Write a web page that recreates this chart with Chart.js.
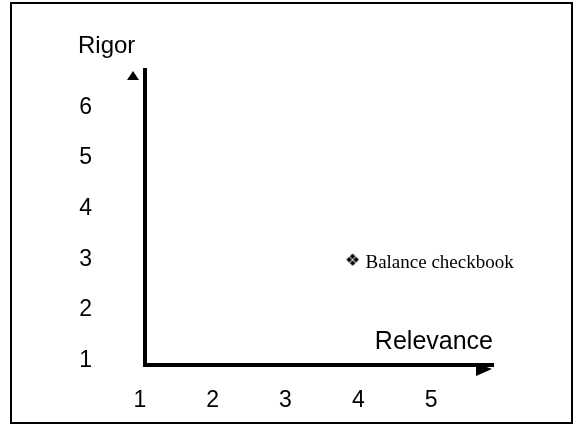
<!DOCTYPE html>
<html><head><meta charset="utf-8">
<script src="https://cdn.jsdelivr.net/npm/chart.js@4"></script>
<style>html,body{margin:0;padding:0;background:#fff}#wrap{width:579px;height:424px;position:relative}</style>
</head><body><div id="wrap"><canvas id="c" width="579" height="424"></canvas></div>
<script>
const xTicks = [1, 2, 3, 4, 5];
const yTicks = [1, 2, 3, 4, 5, 6];
const pointLabels = ['Balance checkbook'];
const relevanceValues = [3.92];
const rigorValues = [2.95];
const xTitle = 'Relevance';
const yTitle = 'Rigor';

const marker = document.createElement('canvas');
marker.width = 18; marker.height = 18;
(function(){
  const m = marker.getContext('2d');
  m.fillStyle = '#000';
  m.font = '17px "DejaVu Sans"';
  m.textAlign = 'center';
  m.textBaseline = 'middle';
  m.fillText('\u2756', 9, 9);
})();

const deco = {
  id: 'deco',
  afterDraw(chart) {
    const ctx = chart.ctx, a = chart.chartArea;
    ctx.save();
    // frame
    ctx.strokeStyle = '#000'; ctx.lineWidth = 2;
    ctx.strokeRect(11, 3, 561, 420);
    // arrows
    ctx.fillStyle = '#000';
    ctx.beginPath();
    ctx.moveTo(a.left - 12, a.top + 1);
    ctx.lineTo(a.left - 18, a.top + 10);
    ctx.lineTo(a.left - 6, a.top + 10);
    ctx.closePath(); ctx.fill();
    ctx.beginPath();
    ctx.moveTo(a.right - 17, a.bottom - 2);
    ctx.lineTo(a.right - 1, a.bottom + 4);
    ctx.lineTo(a.right - 17, a.bottom + 11);
    ctx.closePath(); ctx.fill();
    // titles
    ctx.textBaseline = 'alphabetic';
    ctx.textAlign = 'left';
    ctx.font = '24px "Liberation Sans", Arial, sans-serif';
    ctx.fillText(yTitle, 78, 53);
    ctx.textAlign = 'right';
    ctx.font = '25px "Liberation Sans", Arial, sans-serif';
    ctx.fillText(xTitle, a.right, a.bottom - 16);
    // point labels
    const meta = chart.getDatasetMeta(0);
    ctx.font = '19px "Liberation Serif", "Times New Roman", serif';
    ctx.textAlign = 'left';
    ctx.textBaseline = 'middle';
    meta.data.forEach((el, i) => {
      ctx.fillText(pointLabels[i], el.x + 13, el.y + 1);
    });
    ctx.restore();
  }
};

const tickFont = { family: '"Liberation Sans", Arial, sans-serif', size: 23 };

new Chart(document.getElementById('c'), {
  type: 'scatter',
  data: {
    datasets: [{
      data: relevanceValues.map((v, i) => ({ x: v, y: rigorValues[i] })),
      pointStyle: marker,
      pointRadius: 9,
      backgroundColor: '#000',
      borderColor: '#000'
    }]
  },
  options: {
    responsive: false,
    animation: false,
    devicePixelRatio: 1,
    layout: { padding: { top: 70, right: 86, left: 0, bottom: 0 } },
    plugins: { legend: { display: false }, tooltip: { enabled: false } },
    scales: {
      x: {
        type: 'linear', min: 1.07, max: 5.85,
        afterBuildTicks: s => { s.ticks = xTicks.map(v => ({ value: v })); },
        afterFit: s => { s.height = 59; s.paddingLeft = 0; s.paddingRight = 0; },
        grid: { display: false, drawTicks: false },
        border: { display: true, color: '#000', width: 4 },
        ticks: { font: tickFont, color: '#000', padding: 22, maxRotation: 0, autoSkip: false }
      },
      y: {
        type: 'linear', min: 0.91, max: 6.74,
        afterBuildTicks: s => { s.ticks = yTicks.map(v => ({ value: v })); },
        afterFit: s => { s.width = 145; s.paddingTop = 0; s.paddingBottom = 0; },
        grid: { display: false, drawTicks: false },
        border: { display: true, color: '#000', width: 4 },
        ticks: { font: tickFont, color: '#000', padding: 53, autoSkip: false }
      }
    }
  },
  plugins: [deco]
});
</script></body></html>
